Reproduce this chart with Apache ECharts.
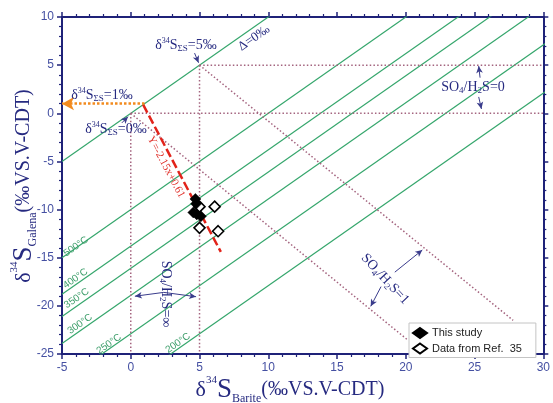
<!DOCTYPE html>
<html><head><meta charset="utf-8">
<script src="https://cdn.jsdelivr.net/npm/echarts@6/dist/echarts.min.js"></script>
<style>html,body{margin:0;padding:0;background:#fff}#c{width:553px;height:403px}</style>
</head><body><div id="c"></div>
<script>
// ---- data ----
const xRange = [-5, 30];
const yRange = [-25, 10];
const tickStep = 5;
// isotope fractionation lines  y = x - delta
const deltaValues = [0, 10, 13.8, 16.1, 18.9, 22.9, 27.9];
const tempNames = ['Δ=0‰', '500°C', '400°C', '350°C', '300°C', '250°C', '200°C'];
// sample points [δ34S barite, δ34S galena]
const thisStudy = [[4.7, -8.9], [4.75, -9.4], [4.55, -10.3], [4.8, -10.5], [5.1, -10.7]];
const ref35 = [[5.0, -9.7], [6.1, -9.7], [5.0, -11.9], [6.35, -12.25]];
// regression line Y=-2.15x+0.61 as drawn
const regression = [[0.9, 0.9], [6.55, -14.4]];
// δ34SΣS = 1‰ projection
const sumS1Arrow = [[1, 1], [-5, 1]];
// SO4/H2S guide lines
const dottedGuides = [
  [[0, 0], [0, -25]],
  [[5, 5], [5, -25]],
  [[5, 5], [30, 5]],
  [[0, 0], [30, 0]],
  [[5, 5], [27.8, -21.5]],
  [[0, 0], [20.1, -23.5]]
];
// small annotation arrows [from, to]
const pointerArrows = [
  [[4.64, 6.25], [4.93, 5.25]],
  [[-0.65, -1.0], [-0.2, -0.35]],
  [[25.4, 3.7], [25.3, 4.9]],
  [[25.3, 1.7], [25.5, 0.45]],
  [[19.2, -16.5], [21.2, -14.2]],
  [[18.2, -18.0], [17.45, -20.05]],
  [[2.4, -18.6], [0.3, -19.0]],
  [[2.4, -18.6], [4.75, -19.05]]
];

// ---- chart ----
const navy = '#262a80';
const axisCol = '#1f2278';
const labelCol = '#4550a2';
const serif = '"Liberation Serif","DejaVu Serif",serif';
const sans = '"Liberation Sans",Arial,sans-serif';

function axisCommon(pos, showLabel) {
  const isX = pos === 'top' || pos === 'bottom';
  return {
    type: 'value', position: pos, min: isX ? xRange[0] : yRange[0],
    max: isX ? xRange[1] : yRange[1], interval: tickStep,
    axisLine: {show: true, onZero: false, lineStyle: {color: axisCol, width: 2}},
    axisTick: {show: true, length: 5, lineStyle: {color: axisCol, width: 1.5}},
    minorTick: {show: true, splitNumber: 5, length: 3, lineStyle: {color: axisCol, width: 1.2}},
    splitLine: {show: false},
    axisLabel: {show: showLabel, color: labelCol, fontSize: 12, fontFamily: sans, margin: 8}
  };
}

const series = [];
deltaValues.forEach((d, i) => {
  series.push({
    type: 'line', name: tempNames[i], silent: true, symbol: 'none', clip: true,
    lineStyle: {color: '#35a66c', width: 1.2},
    data: [[xRange[0], xRange[0] - d], [xRange[1] + 10, xRange[1] + 10 - d]],
    z: 1
  });
});
dottedGuides.forEach(seg => {
  series.push({
    type: 'line', silent: true, symbol: 'none',
    lineStyle: {color: '#a4647f', width: 1.5, type: [1.5, 2.2]},
    data: seg, z: 1
  });
});
series.push({
  type: 'line', silent: true, symbol: 'none',
  lineStyle: {color: '#e2231a', width: 2.5, type: [9, 3.5]},
  data: regression, z: 3
});
series.push({
  type: 'line', silent: true, symbol: 'none', data: [],
  markLine: {
    silent: true, animation: false, symbol: ['none', 'arrow'], symbolSize: [10, 12],
    label: {show: false},
    lineStyle: {color: '#f28a1e', width: 2.5, type: [2.5, 2]},
    data: [[{coord: sumS1Arrow[0]}, {coord: sumS1Arrow[1]}]]
  }
});
series.push({
  type: 'line', silent: true, symbol: 'none', data: [],
  markLine: {
    silent: true, animation: false, symbol: ['none', 'arrow'], symbolSize: [5, 7],
    label: {show: false},
    lineStyle: {color: '#3a3c8c', width: 1, type: 'solid'},
    data: pointerArrows.map(a => [{coord: a[0]}, {coord: a[1]}])
  }
});
series.push({
  type: 'scatter', name: 'Data from Ref.  35', symbol: 'diamond', symbolSize: 11,
  itemStyle: {color: '#ffffff', borderColor: '#000', borderWidth: 1.6, opacity: 1},
  data: ref35, z: 4
});
series.push({
  type: 'scatter', name: 'This study', symbol: 'diamond', symbolSize: 11,
  itemStyle: {color: '#000', borderColor: '#000', borderWidth: 0.5, opacity: 1},
  data: thisStudy, z: 5
});

function richLabel(size, color, subSize) {
  return {
    a: {fontSize: size, fontFamily: serif, fill: color, lineHeight: size + 3},
    sup: {fontSize: subSize, fontFamily: serif, fill: color, verticalAlign: 'top', lineHeight: subSize + 1},
    sub: {fontSize: subSize + 1, fontFamily: serif, fill: color, verticalAlign: 'bottom', lineHeight: subSize + 2}
  };
}
function txt(x, y, text, rich, rot) {
  return {
    type: 'text', x: x, y: y, rotation: rot || 0, silent: true, z: 10,
    style: {text: text, rich: rich, align: 'center', verticalAlign: 'middle'}
  };
}
const r14 = richLabel(14, navy, 8);
const rGreen = {a: {fontSize: 10, fontFamily: sans, fill: '#3a9c68'}};

const titleRich = {
  d: {fontSize: 22, fontFamily: serif, fill: navy, lineHeight: 30},
  s: {fontSize: 27, fontFamily: serif, fill: navy, lineHeight: 30},
  sup: {fontSize: 11, fontFamily: serif, fill: navy, verticalAlign: 'top', lineHeight: 14},
  sub: {fontSize: 12, fontFamily: serif, fill: navy, verticalAlign: 'bottom', lineHeight: 13},
  p: {fontSize: 20, fontFamily: serif, fill: navy, lineHeight: 30}
};

const graphics = [
  txt(290, 390, '{d|δ}{sup|34}{s|S}{sub|Barite}{p|(‰VS.V-CDT)}', titleRich, 0),
  txt(24, 186, '{d|δ}{sup|34}{s|S}{sub|Galena}{p|(‰VS.V-CDT)}', titleRich, Math.PI / 2),
  txt(186, 45, '{a|δ}{sup|34}{a|S}{sub|ΣS}{a|=5‰}', r14, 0),
  txt(102, 95, '{a|δ}{sup|34}{a|S}{sub|ΣS}{a|=1‰}', r14, 0),
  txt(116, 129, '{a|δ}{sup|34}{a|S}{sub|ΣS}{a|=0‰}', r14, 0),
  txt(254, 38, '{a|Δ=0‰}', richLabel(13, navy, 8), 0.61),
  txt(473, 87, '{a|SO}{sub|4}{a|/H}{sub|2}{a|S=0}', r14, 0),
  txt(385, 279, '{a|SO}{sub|4}{a|/H}{sub|2}{a|S=1}', r14, -0.82),
  txt(166, 294, '{a|SO}{sub|4}{a|/H}{sub|2}{a|S=∞}', r14, -Math.PI / 2),
  txt(166, 167, '{a|Y=-2.15x+0.61}', {a: {fontSize: 11, fontFamily: serif, fill: '#e0302a'}}, -1.08),
  txt(76, 246.5, '{a|' + tempNames[1] + '}', rGreen, 0.61),
  txt(75.5, 278.5, '{a|' + tempNames[2] + '}', rGreen, 0.61),
  txt(76.7, 298.3, '{a|' + tempNames[3] + '}', rGreen, 0.61),
  txt(80, 324, '{a|' + tempNames[4] + '}', rGreen, 0.61),
  txt(109, 344, '{a|' + tempNames[5] + '}', rGreen, 0.61),
  txt(178, 343, '{a|' + tempNames[6] + '}', rGreen, 0.61)
];

const chart = echarts.init(document.getElementById('c'), null, {renderer: 'canvas'});
chart.setOption({
  animation: false,
  backgroundColor: '#ffffff',
  grid: {left: 62, right: 8, top: 17, bottom: 49, containLabel: false},
  xAxis: [axisCommon('bottom', true), axisCommon('top', false)],
  yAxis: [axisCommon('left', true), axisCommon('right', false)],
  legend: {
    data: ['This study', 'Data from Ref.  35'],
    orient: 'vertical', left: 409, top: 323,
    itemWidth: 14, itemHeight: 10, itemGap: 3.5,
    padding: [4, 14, 3, 3],
    backgroundColor: '#ffffff', borderColor: '#c4c4c4', borderWidth: 1, borderRadius: 0,
    textStyle: {fontSize: 11, fontFamily: sans, color: '#222'},
    selectedMode: false
  },
  series: series,
  graphic: graphics
});
</script>
</body></html>
